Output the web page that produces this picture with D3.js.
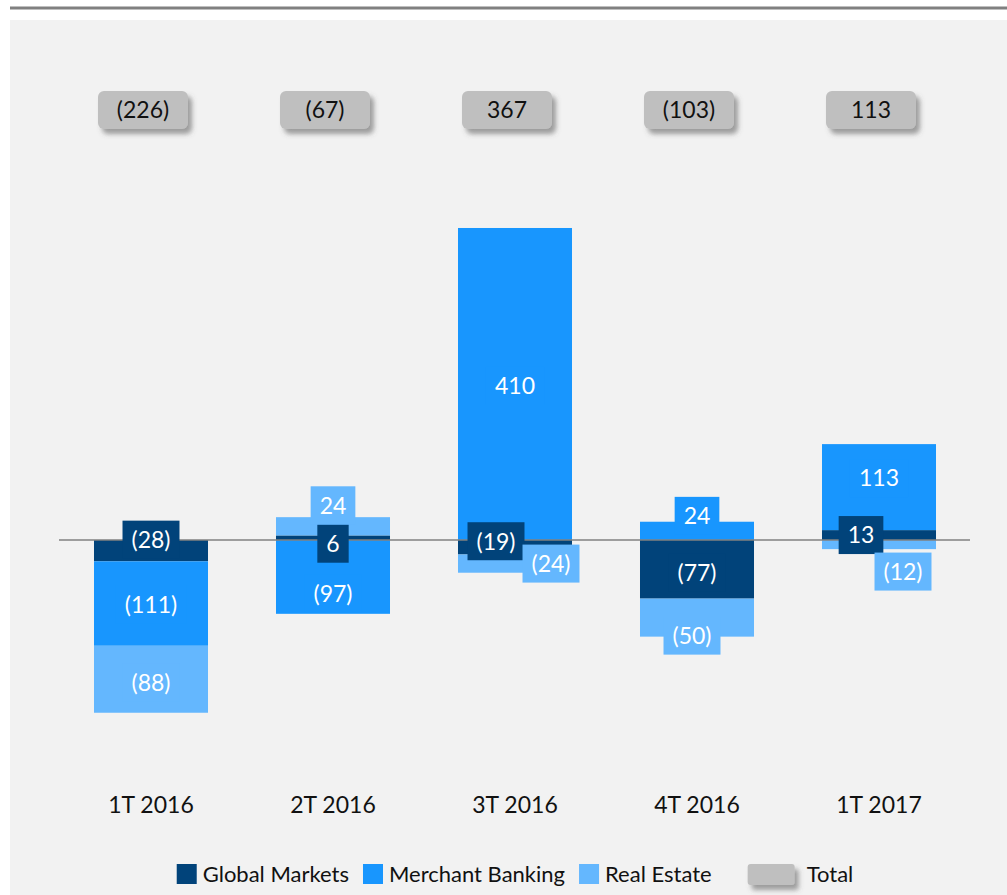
<!DOCTYPE html>
<html>
<head>
<meta charset="utf-8">
<script src="https://cdn.jsdelivr.net/npm/d3@7"></script>
<style>
  body { margin: 0; background: #fff; }
  svg { display: block; font-family: Lato, "Open Sans", sans-serif; }
</style>
</head>
<body>
<div id="chart"></div>
<script>
// values
const categories = ['1T 2016', '2T 2016', '3T 2016', '4T 2016', '1T 2017'];
const globalMarkets = [-28, 6, -19, -77, 13];
const merchantBanking = [-111, -97, 410, 24, 113];
const realEstate = [-88, 24, -24, -50, -12];
const totals = [-226, -67, 367, -103, 113];

const seriesNames = ['Global Markets', 'Merchant Banking', 'Real Estate'];
const seriesKeys = ['gm', 'mb', 're'];
const colors = { gm: '#01437a', mb: '#1896fe', re: '#64b7fe' };

// manual label nudges (px), like the hand-placed labels of the original
const labelNudge = {
    gm: [[0, -11], [0, 6], [-19, -6], [0, 3], [-18, 0]],
    mb: [[0, 1], [0, 17], [0, 2], [0, -15], [0, -9]],
    re: [[0, 3], [0, -21], [36, 0], [-5, 18], [24, 27]]
};

const W = 1007, H = 895;
const fmt = v => v < 0 ? '(' + Math.abs(v) + ')' : String(v);

const rows = categories.map((c, i) => ({
    cat: c, gm: globalMarkets[i], mb: merchantBanking[i], re: realEstate[i], total: totals[i]
}));

const svg = d3.select('#chart').append('svg')
    .attr('width', W).attr('height', H);

const defs = svg.append('defs');
const f = defs.append('filter').attr('id', 'shadow')
    .attr('x', '-20%').attr('y', '-30%').attr('width', '150%').attr('height', '180%');
f.append('feDropShadow').attr('dx', 4).attr('dy', 5).attr('stdDeviation', 2.5)
    .attr('flood-color', '#555').attr('flood-opacity', 0.55);

// top rule and panel
svg.append('line').attr('x1', 10).attr('x2', W).attr('y1', 8).attr('y2', 8)
    .attr('stroke', '#808080').attr('stroke-width', 3);
svg.append('rect').attr('x', 10).attr('y', 20).attr('width', W - 10).attr('height', H - 20)
    .attr('fill', '#f2f2f2');

// scales
const x = d3.scaleBand().domain(categories).range([60, 970])
    .paddingInner(0.3736).paddingOuter(0.1868);
const y = d3.scaleLinear().domain([-300, 450]).range([540 + 300 * 0.761, 540 - 450 * 0.761]);

const stack = d3.stack().keys(seriesKeys).offset(d3.stackOffsetDiverging);
const stacked = stack(rows);

// bars
const layers = svg.append('g').selectAll('g').data(stacked).join('g')
    .attr('fill', d => colors[d.key]);
layers.selectAll('rect').data(d => d).join('rect')
    .attr('x', d => x(d.data.cat))
    .attr('width', x.bandwidth())
    .attr('y', d => y(Math.max(d[0], d[1])))
    .attr('height', d => Math.abs(y(d[0]) - y(d[1])));

// zero line
svg.append('line').attr('x1', x.range()[0] - 1).attr('x2', x.range()[1])
    .attr('y1', y(0)).attr('y2', y(0))
    .attr('stroke', '#808080').attr('stroke-width', 1.5);

// segment labels with colored boxes
stacked.forEach(layer => {
    const g = svg.append('g');
    layer.forEach((d, i) => {
        const v = d.data[layer.key];
        const n = labelNudge[layer.key][i];
        const cx = x(d.data.cat) + x.bandwidth() / 2 + n[0];
        const cy = (y(d[0]) + y(d[1])) / 2 + n[1];
        const box = g.append('rect').attr('fill', colors[layer.key]);
        const t = g.append('text')
            .attr('x', cx).attr('y', cy).attr('dy', '0.36em')
            .attr('text-anchor', 'middle')
            .attr('fill', '#fff').attr('font-size', 23)
            .text(fmt(v));
        const tw = t.node().getComputedTextLength() + 18;
        box.attr('x', cx - tw / 2).attr('y', cy - 19).attr('width', tw).attr('height', 38);
    });
});

// totals
const tg = svg.append('g').selectAll('g').data(rows).join('g')
    .attr('transform', d => 'translate(' + (x(d.cat) + x.bandwidth() / 2 - 8) + ',110)');
tg.append('rect').attr('x', -45).attr('y', -19).attr('width', 90).attr('height', 38)
    .attr('rx', 6).attr('fill', '#bfbfbf').attr('filter', 'url(#shadow)');
tg.append('text').attr('text-anchor', 'middle').attr('dy', '0.36em')
    .attr('font-size', 23).attr('fill', '#111')
    .text(d => fmt(d.total));

// category axis labels
svg.append('g').selectAll('text').data(categories).join('text')
    .attr('x', d => x(d) + x.bandwidth() / 2)
    .attr('y', 805).attr('dy', '0.36em')
    .attr('text-anchor', 'middle').attr('font-size', 23).attr('fill', '#111')
    .text(d => d);

// legend
const legend = svg.append('g');
let lx = 0;
seriesKeys.forEach((k, i) => {
    legend.append('rect').attr('x', lx).attr('y', -10).attr('width', 20).attr('height', 20)
        .attr('fill', colors[k]);
    const t = legend.append('text').attr('x', lx + 26).attr('dy', '0.36em')
        .attr('font-size', 22).attr('fill', '#111').text(seriesNames[i]);
    lx += 26 + t.node().getComputedTextLength() + (i < 2 ? 14 : 36);
});
legend.append('rect').attr('x', lx).attr('y', -10).attr('width', 47).attr('height', 21)
    .attr('rx', 3).attr('fill', '#bfbfbf').attr('filter', 'url(#shadow)');
const tt = legend.append('text').attr('x', lx + 59).attr('dy', '0.36em')
    .attr('font-size', 22).attr('fill', '#111').text('Total');
lx += 59 + tt.node().getComputedTextLength();
legend.attr('transform', 'translate(' + (515 - lx / 2) + ',874)');
</script>
</body>
</html>
